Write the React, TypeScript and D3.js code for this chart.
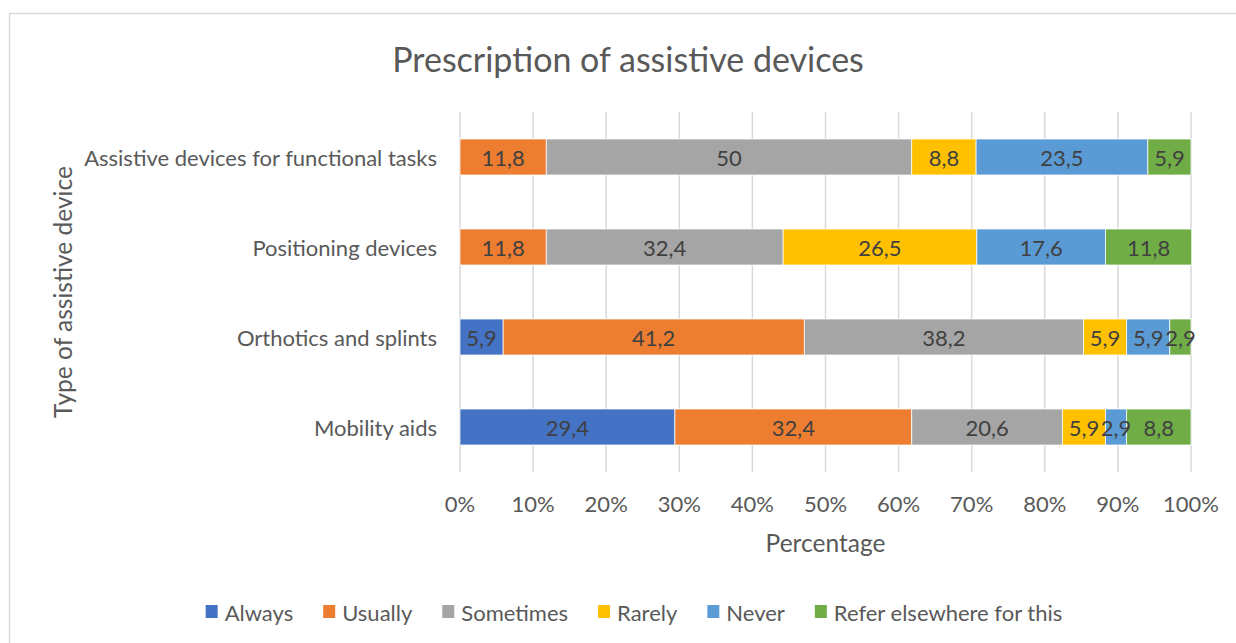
import { useRef, useEffect } from 'react';
import * as d3 from 'd3';

// Chart data
const categories = [
  'Assistive devices for functional tasks',
  'Positioning devices',
  'Orthotics and splints',
  'Mobility aids',
];
const seriesNames = ['Always', 'Usually', 'Sometimes', 'Rarely', 'Never', 'Refer elsewhere for this'];
const always = [0, 0, 5.9, 29.4];
const usually = [11.8, 11.8, 41.2, 32.4];
const sometimes = [50, 32.4, 38.2, 20.6];
const rarely = [8.8, 26.5, 5.9, 5.9];
const never = [23.5, 17.6, 5.9, 2.9];
const referElsewhere = [5.9, 11.8, 2.9, 8.8];
const xTicks = [0, 10, 20, 30, 40, 50, 60, 70, 80, 90, 100];

const COLORS = ['#4472C4', '#ED7D31', '#A5A5A5', '#FFC000', '#5B9BD5', '#70AD47'];
const FONT = 'Lato, "Open Sans", sans-serif';

const W = 1236;
const H = 643;

export default function App() {
  const svgRef = useRef<SVGSVGElement>(null);

  useEffect(() => {
    if (!svgRef.current) return;
    const svg = d3.select(svgRef.current);
    svg.selectAll('*').remove();

    const values = [always, usually, sometimes, rarely, never, referElsewhere];
    const rows = categories.map((c, i) => {
      const r: Record<string, any> = { cat: c };
      seriesNames.forEach((s, k) => (r[s] = values[k][i]));
      return r;
    });
    const stack = d3.stack<Record<string, any>>().keys(seriesNames);
    const layers = stack(rows);

    const plot = { left: 460, right: 1191, top: 112, bottom: 472 };
    const x = d3.scaleLinear().domain([0, 100]).range([plot.left, plot.right]);
    const y = d3
      .scaleBand<string>()
      .domain(categories)
      .range([plot.top, plot.bottom])
      .paddingInner(0.6)
      .paddingOuter(0.3);

    // frame
    svg.append('rect')
      .attr('x', 9.5).attr('y', 13.5)
      .attr('width', W + 20).attr('height', H + 20)
      .attr('fill', '#fff')
      .attr('stroke', '#d9d9d9')
      .attr('stroke-width', 1.5);

    // title
    svg.append('text')
      .attr('x', 628).attr('y', 58)
      .attr('text-anchor', 'middle')
      .attr('dominant-baseline', 'central')
      .attr('font-family', FONT)
      .attr('font-size', 34)
      .attr('fill', '#595959')
      .text('Prescription of assistive devices');

    // gridlines
    svg.append('g')
      .selectAll('line')
      .data(xTicks)
      .join('line')
      .attr('x1', (d) => x(d)).attr('x2', (d) => x(d))
      .attr('y1', plot.top).attr('y2', plot.bottom)
      .attr('stroke', '#d9d9d9')
      .attr('stroke-width', 1.5);

    // bars
    const g = svg.append('g');
    layers.forEach((layer, k) => {
      g.append('g')
        .selectAll('rect')
        .data(layer.filter((d) => d[1] - d[0] > 0))
        .join('rect')
        .attr('x', (d) => x(d[0]))
        .attr('y', (d) => y(d.data.cat)!)
        .attr('width', (d) => x(d[1]) - x(d[0]))
        .attr('height', y.bandwidth())
        .attr('fill', COLORS[k])
        .attr('stroke', '#fff')
        .attr('stroke-width', 0.75);
    });

    // data labels
    layers.forEach((layer) => {
      g.append('g')
        .selectAll('text')
        .data(layer.filter((d) => d[1] - d[0] > 0))
        .join('text')
        .attr('x', (d) => (x(d[0]) + x(d[1])) / 2)
        .attr('y', (d) => y(d.data.cat)! + y.bandwidth() / 2)
        .attr('text-anchor', 'middle')
        .attr('dominant-baseline', 'central')
        .attr('font-family', FONT)
        .attr('font-size', 22)
        .attr('fill', '#404040')
        .text((d) => String(d.data[layer.key]).replace('.', ','));
    });

    // category labels
    svg.append('g')
      .selectAll('text')
      .data(categories)
      .join('text')
      .attr('x', plot.left - 23)
      .attr('y', (d) => y(d)! + y.bandwidth() / 2)
      .attr('text-anchor', 'end')
      .attr('dominant-baseline', 'central')
      .attr('font-family', FONT)
      .attr('font-size', 22)
      .attr('fill', '#595959')
      .text((d) => d);

    // x tick labels
    svg.append('g')
      .selectAll('text')
      .data(xTicks)
      .join('text')
      .attr('x', (d) => x(d))
      .attr('y', 503)
      .attr('text-anchor', 'middle')
      .attr('dominant-baseline', 'central')
      .attr('font-family', FONT)
      .attr('font-size', 22)
      .attr('fill', '#595959')
      .text((d) => `${d}%`);

    // axis titles
    svg.append('text')
      .attr('x', (plot.left + plot.right) / 2).attr('y', 542)
      .attr('text-anchor', 'middle')
      .attr('dominant-baseline', 'central')
      .attr('font-family', FONT)
      .attr('font-size', 24.5)
      .attr('fill', '#595959')
      .text('Percentage');

    svg.append('text')
      .attr('transform', 'translate(62,292) rotate(-90)')
      .attr('text-anchor', 'middle')
      .attr('dominant-baseline', 'central')
      .attr('font-family', FONT)
      .attr('font-size', 24.5)
      .attr('fill', '#595959')
      .text('Type of assistive device');

    // legend
    const lg = svg.append('g');
    const items = seriesNames.map((s, k) => {
      const it = lg.append('g');
      it.append('rect')
        .attr('x', 0).attr('y', 605)
        .attr('width', 12).attr('height', 13)
        .attr('fill', COLORS[k]);
      const t = it.append('text')
        .attr('x', 19).attr('y', 612)
        .attr('dominant-baseline', 'central')
        .attr('font-family', FONT)
        .attr('font-size', 22)
        .attr('fill', '#595959')
        .text(s);
      const w = 19 + (t.node() as SVGTextElement).getComputedTextLength();
      return { it, w };
    });
    const gap = 30;
    const total = d3.sum(items, (d) => d.w) + gap * (items.length - 1);
    let cx = 634 - total / 2;
    items.forEach(({ it, w }) => {
      it.attr('transform', `translate(${cx},0)`);
      cx += w + gap;
    });
  }, []);

  return (
    <svg
      ref={svgRef}
      width={W}
      height={H}
      style={{ position: 'absolute', left: 0, top: 0, display: 'block', background: '#fff' }}
    />
  );
}
